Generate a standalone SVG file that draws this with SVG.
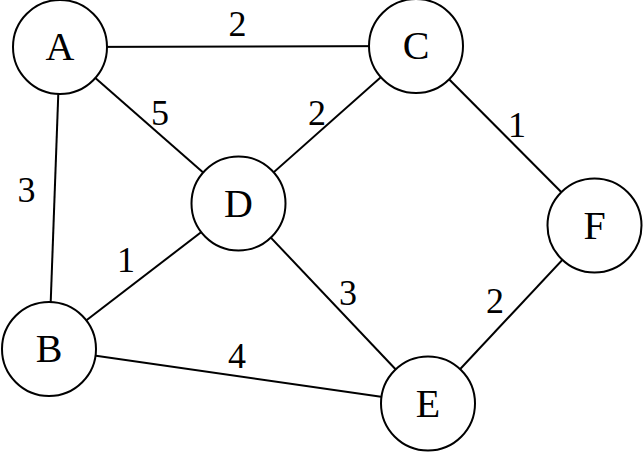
<svg xmlns="http://www.w3.org/2000/svg" width="643" height="454" viewBox="0 0 643 454">
<style>
.n circle{fill:#fff;stroke:#000;stroke-width:2}
.n text{font-family:"Liberation Serif","DejaVu Serif",serif;font-size:40px;text-anchor:middle}
.e line{stroke:#000;stroke-width:2}
.w{font-family:"Liberation Serif","DejaVu Serif",serif;font-size:36px;text-anchor:middle}
</style>
<rect width="643" height="454" fill="#fff"/>
<g id="edges" class="e">
<line x1="60" y1="47" x2="416" y2="46"/>
<line x1="60" y1="47" x2="238.5" y2="203.5"/>
<line x1="60" y1="47" x2="49" y2="349"/>
<line x1="416" y1="46" x2="238.5" y2="203.5"/>
<line x1="416" y1="46" x2="594.5" y2="225.5"/>
<line x1="238.5" y1="203.5" x2="49" y2="349"/>
<line x1="238.5" y1="203.5" x2="428" y2="403.5"/>
<line x1="594.5" y1="225.5" x2="428" y2="403.5"/>
<line x1="49" y1="349" x2="428" y2="403.5"/>
<text class="w" x="237.5" y="35.5">2</text>
<text class="w" x="160" y="125">5</text>
<text class="w" x="317" y="124.5">2</text>
<text class="w" x="517" y="137">1</text>
<text class="w" x="26.5" y="201.5">3</text>
<text class="w" x="126" y="272">1</text>
<text class="w" x="348" y="305">3</text>
<text class="w" x="495" y="312.5">2</text>
<text class="w" x="237" y="367.5">4</text>
</g>
<g id="A" class="n"><circle cx="60" cy="47" r="47"/><text x="60" y="60">A</text></g>
<g id="C" class="n"><circle cx="416" cy="46" r="47"/><text x="416" y="59">C</text></g>
<g id="D" class="n"><circle cx="238.5" cy="203.5" r="47"/><text x="238.5" y="216.5">D</text></g>
<g id="F" class="n"><circle cx="594.5" cy="225.5" r="47"/><text x="594.5" y="238.5">F</text></g>
<g id="B" class="n"><circle cx="49" cy="349" r="47"/><text x="49" y="362">B</text></g>
<g id="E" class="n"><circle cx="428" cy="403.5" r="47"/><text x="428" y="416.5">E</text></g>
</svg>
